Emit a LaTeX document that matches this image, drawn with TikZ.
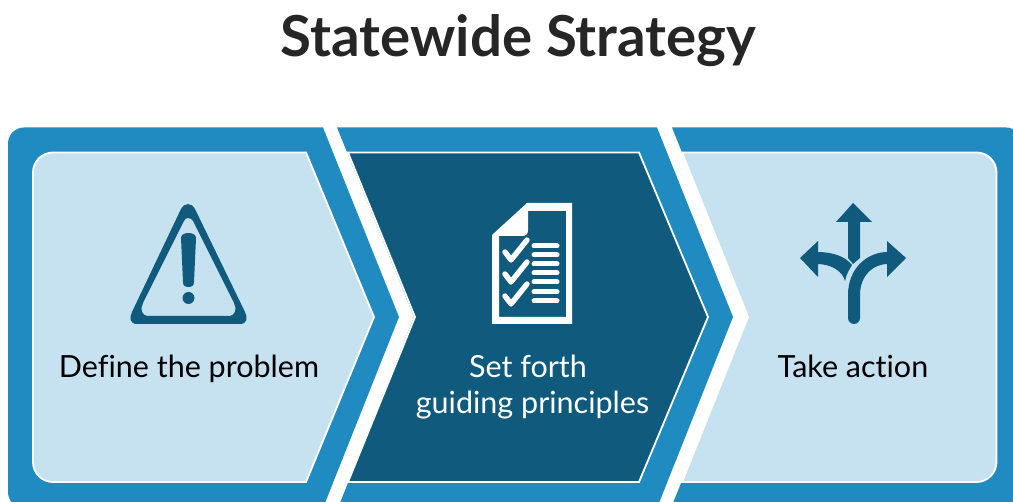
\documentclass[tikz,border=0pt]{standalone}
\usepackage{fontspec}
\setmainfont[Ligatures=NoCommon]{Lato}
\definecolor{midblue}{HTML}{208BC0}
\definecolor{lightblue}{HTML}{C6E1EF}
\definecolor{darkblue}{HTML}{105A7E}
\tikzset{
  outerpanel/.style={fill=midblue,draw=none},
  lightpanel/.style={fill=lightblue,draw=white,line width=1.8pt,line join=miter},
  darkpanel/.style={fill=darkblue,draw=white,line width=1.8pt,line join=miter},
  iconshape/.style={fill=darkblue,draw=none},
  iconline/.style={draw=darkblue,line width=12pt},
  docline/.style={draw=white,line width=5pt,line cap=round},
  checkline/.style={draw=white,line width=5.4pt,line cap=round,line join=round},
  title/.style={font=\fontsize{56.5}{60}\selectfont\bfseries,text=black!85,inner sep=0pt,anchor=base},
  label/.style={font=\fontsize{30.5}{36}\selectfont,inner sep=0pt,anchor=base}
}
\begin{document}
\begin{tikzpicture}[x=1pt,y=-1pt]
\useasboundingbox (0,0) rectangle (1013,502);
\clip (0,0) rectangle (1013,502);
\fill[white] (0,0) rectangle (1013,502);
% outer bands
\path[outerpanel] (323,127.5) [rounded corners=16pt] -- (8,127.5) -- (8,508) -- (100,508) [sharp corners] -- (323,508) -- (399,317) -- cycle;
\path[outerpanel] (337,127.5) -- (657,127.5) -- (733,317) -- (657,508) -- (338,508) -- (414,317) -- cycle;
\path[outerpanel] (672,127.5) -- (900,127.5) [rounded corners=16pt] -- (1022,127.5) -- (1022,508) -- (900,508) [sharp corners] -- (671,508) -- (748,317) -- cycle;
% inner panels
\path[lightpanel] (306,152.5) [rounded corners=20pt] -- (33,152.5) -- (33,482) -- (100,482) [sharp corners] -- (306,482) -- (374,317) -- cycle;
\path[darkpanel] (348,152.5) -- (639,152.5) -- (708,317) -- (639,482) -- (348,482) -- (415,317) -- cycle;
\path[lightpanel] (682,152.5) -- (900,152.5) [rounded corners=20pt] -- (996.5,152.5) -- (996.5,482) -- (900,482) [sharp corners] -- (682,482) -- (748,317) -- cycle;
% warning icon
\path[iconshape,even odd rule]
  (188,204) .. controls (191,204) and (193,206) .. (195,209) -- (245,312)
  .. controls (248,318) and (247,324) .. (240,324) -- (137,324)
  .. controls (130,324) and (129,318) .. (132,312) -- (181,209)
  .. controls (183,206) and (185,204) .. (188,204) -- cycle
  (188,218) .. controls (186,218) and (185,219) .. (184,221) -- (143,303)
  .. controls (140,309) and (141,316) .. (149,316) -- (228,316)
  .. controls (236,316) and (237,309) .. (234,303) -- (193,221)
  .. controls (192,219) and (190,218) .. (188,218) -- cycle;
\path[iconshape] (181,238) .. controls (181,235) and (184,233) .. (188.5,233)
  .. controls (193,233) and (196,235) .. (196,238) -- (194,282)
  .. controls (194,285.5) and (192,287) .. (188.5,287)
  .. controls (185,287) and (183,285.5) .. (183,282) -- cycle;
\fill[darkblue] (188.5,298) circle[radius=6pt];
% document icon
\path[fill=white,even odd rule]
  (492,235) -- (527,203) -- (572,203) -- (572,324) -- (492,324) -- cycle
  (499,236) -- (522,236) .. controls (526,236) and (528,234) .. (528,230) -- (528,211) -- (566,211) -- (566,317) -- (499,317) -- cycle;
\foreach \yy in {246,255,264,273,282,292,301} \draw[docline] (534,\yy) -- (557,\yy);
\foreach \yy in {0,22,44} \draw[checkline] (505,252+\yy) -- (511,260+\yy) -- (527,240+\yy);
% arrows icon
\path[iconshape] (853,203) -- (872,222) -- (860,222) -- (860,258) -- (853,264) -- (848,258) -- (848,222) -- (836,222) -- cycle;
\draw[iconline,line cap=round] (854,318) -- (854,295) .. controls (854,272) and (870,258) .. (888,258);
\path[iconshape] (906,258) -- (887,277) -- (887,241) -- cycle;
\path[iconshape] (800,258) -- (818,241) -- (818,277) -- cycle;
\path[iconshape] (817,252) .. controls (832,252) and (845,256) .. (852,265)
  .. controls (849,270) and (846,275) .. (845,281)
  .. controls (843,272) and (832,264) .. (817,264) -- cycle;
% text
\node[title] (titletext) at (518.5,57) {Statewide Strategy};
\node[label,text=black] (define) at (189,378) {Define the problem};
\node[label,text=white] (setforth) at (528,378) {Set forth};
\node[label,text=white] (guiding) at (532.5,414) {guiding principles};
\node[label,text=black] (action) at (853,378) {Take action};
\end{tikzpicture}
\end{document}
